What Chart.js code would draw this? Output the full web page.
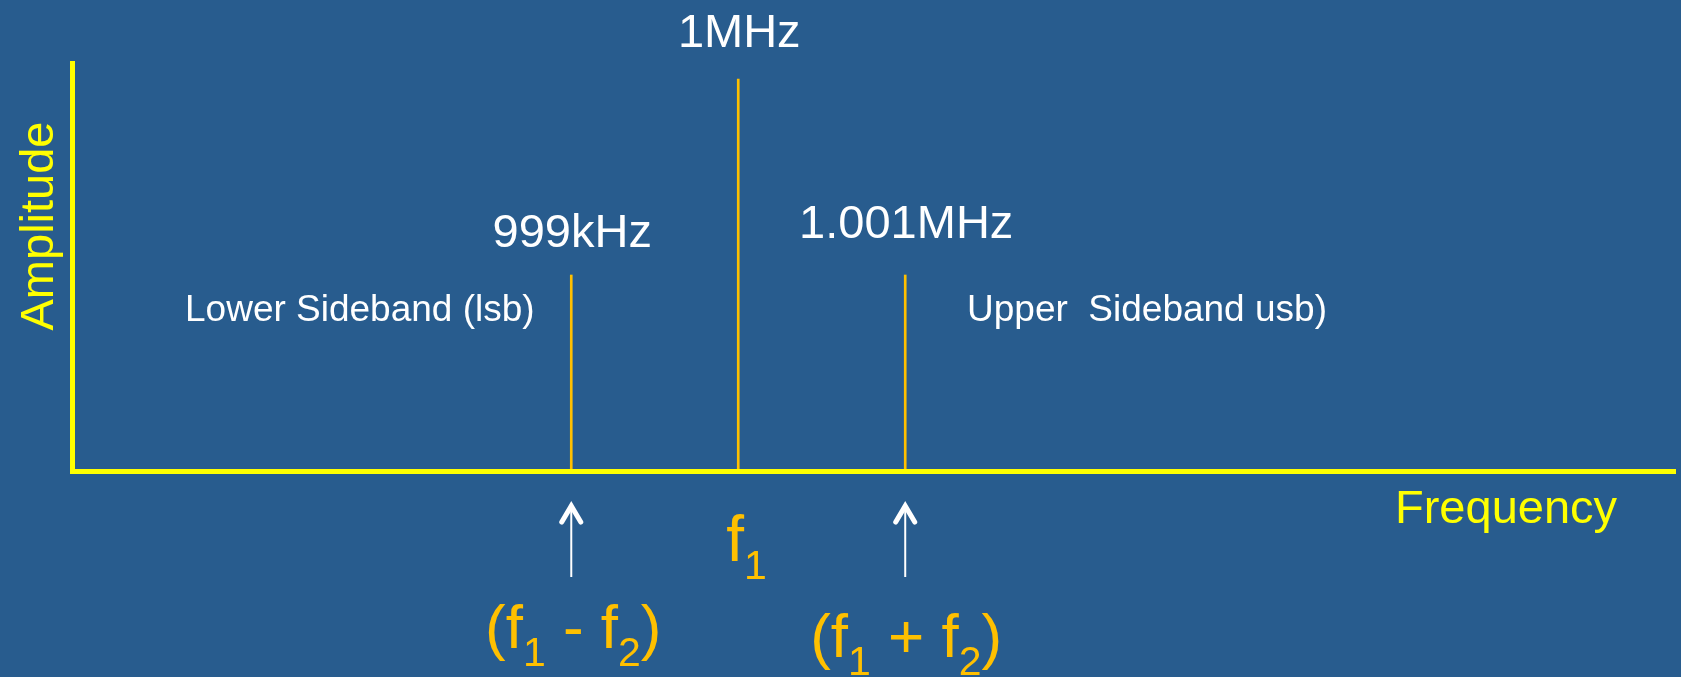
<!DOCTYPE html>
<html>
<head>
<meta charset="utf-8">
<title>Sidebands</title>
<script src="https://cdn.jsdelivr.net/npm/chart.js@4.4.1/dist/chart.umd.min.js"></script>
<style>
    html, body { margin: 0; padding: 0; background: #285C8E; overflow: hidden; }
    #wrap { width: 1681px; height: 677px; position: relative; }
</style>
</head>
<body>
<div id="wrap"><canvas id="spectrum"></canvas></div>
<script>
// Spectrum data (frequencies in kHz, relative amplitude)
const freqs = [999, 1000, 1001];
const amplitudes = [0.5, 1, 0.5];
const freqLabels = ['999kHz', '1MHz', '1.001MHz'];
const sidebandLabels = ['Lower Sideband (lsb)', 'Upper  Sideband usb)'];
const xTitle = 'Frequency';
const yTitle = 'Amplitude';

const FONT = '"Liberation Sans", Arial, sans-serif';
const BG = '#285C8E';
const AXIS = '#FFFF00';
const GOLD = '#FFC000';

// draws text with subscripts, parts = [[text, isSub], ...]
function drawRich(ctx, parts, x, baseline, size, subSize, align) {
    let total = 0;
    const widths = parts.map(([t, sub]) => {
        ctx.font = (sub ? subSize : size) + 'px ' + FONT;
        const w = ctx.measureText(t).width;
        total += w;
        return w;
    });
    let cx = align === 'center' ? x - total / 2 : x;
    ctx.textAlign = 'left';
    parts.forEach(([t, sub], i) => {
        ctx.font = (sub ? subSize : size) + 'px ' + FONT;
        ctx.fillText(t, cx, sub ? baseline + 18 : baseline);
        cx += widths[i];
    });
}

function drawArrow(ctx, x, tipY, bottomY) {
    ctx.save();
    ctx.strokeStyle = '#FFFFFF';
    ctx.lineWidth = 2;
    ctx.beginPath();
    ctx.moveTo(x, bottomY);
    ctx.lineTo(x, tipY + 3);
    ctx.stroke();
    ctx.lineWidth = 5;
    ctx.lineCap = 'round';
    ctx.lineJoin = 'miter';
    ctx.beginPath();
    ctx.moveTo(x - 9.5, tipY + 19);
    ctx.lineTo(x, tipY + 3);
    ctx.lineTo(x + 9.5, tipY + 19);
    ctx.stroke();
    ctx.restore();
}

const backgroundPlugin = {
    id: 'bg',
    beforeDraw(chart) {
        const ctx = chart.ctx;
        ctx.save();
        ctx.fillStyle = BG;
        ctx.fillRect(0, 0, chart.width, chart.height);
        ctx.restore();
    }
};

const annotationPlugin = {
    id: 'notes',
    afterDraw(chart) {
        const ctx = chart.ctx;
        const xs = chart.scales.x;
        const ys = chart.scales.y;
        const area = chart.chartArea;
        ctx.save();

        // frequency labels above each line
        const topGap = [28, 32, 37];
        ctx.fillStyle = '#FFFFFF';
        ctx.textAlign = 'center';
        ctx.textBaseline = 'alphabetic';
        ctx.font = '47px ' + FONT;
        freqs.forEach((f, i) => {
            ctx.fillText(freqLabels[i], xs.getPixelForValue(f) + 1, ys.getPixelForValue(amplitudes[i]) - topGap[i]);
        });

        // sideband names
        ctx.font = '37px ' + FONT;
        ctx.textAlign = 'left';
        const sbY = ys.getPixelForValue(0.5) + 46;
        ctx.fillText(sidebandLabels[0], 185, sbY);
        ctx.fillText(sidebandLabels[1], 967, sbY);

        // axis titles
        ctx.fillStyle = AXIS;
        ctx.font = '47px ' + FONT;
        ctx.fillText(xTitle, 1395, area.bottom + 52);
        ctx.save();
        ctx.translate(53, 226);
        ctx.rotate(-Math.PI / 2);
        ctx.textAlign = 'center';
        ctx.fillText(yTitle, 0, 0);
        ctx.restore();

        // arrows under the side frequencies
        const xl = xs.getPixelForValue(freqs[0]);
        const xu = xs.getPixelForValue(freqs[2]);
        drawArrow(ctx, xl, 503, 577);
        drawArrow(ctx, xu, 503, 577);

        // f1, (f1 - f2), (f1 + f2)
        ctx.fillStyle = GOLD;
        drawRich(ctx, [['f', 0], ['1', 1]], xs.getPixelForValue(freqs[1]) - 12, 561, 64, 41, 'left');
        drawRich(ctx, [['(f', 0], ['1', 1], [' - f', 0], ['2', 1], [')', 0]], xl + 2, 648, 62, 41, 'center');
        drawRich(ctx, [['(f', 0], ['1', 1], [' + f', 0], ['2', 1], [')', 0]], xu + 1, 657, 62, 41, 'center');

        ctx.restore();
    }
};

new Chart(document.getElementById('spectrum'), {
    type: 'bar',
    data: {
        datasets: [{
            data: freqs.map((f, i) => ({ x: f, y: amplitudes[i] })),
            backgroundColor: GOLD,
            borderWidth: 0,
            barThickness: 2
        }]
    },
    options: {
        responsive: true,
        maintainAspectRatio: false,
        animation: false,
        events: [],
        layout: { padding: { left: 72, right: 6, top: 63, bottom: 206 } },
        plugins: {
            legend: { display: false },
            tooltip: { enabled: false }
        },
        scales: {
            x: {
                type: 'linear',
                min: 996.01,
                max: 1005.61,
                offset: false,
                grid: { display: false, drawTicks: false },
                ticks: { display: false },
                border: { display: true, color: AXIS, width: 5, z: 1 }
            },
            y: {
                min: 0,
                max: 1.0408,
                grid: { display: false, drawTicks: false },
                ticks: { display: false },
                border: { display: true, color: AXIS, width: 5, z: 1 }
            }
        }
    },
    plugins: [backgroundPlugin, annotationPlugin]
});
</script>
</body>
</html>
